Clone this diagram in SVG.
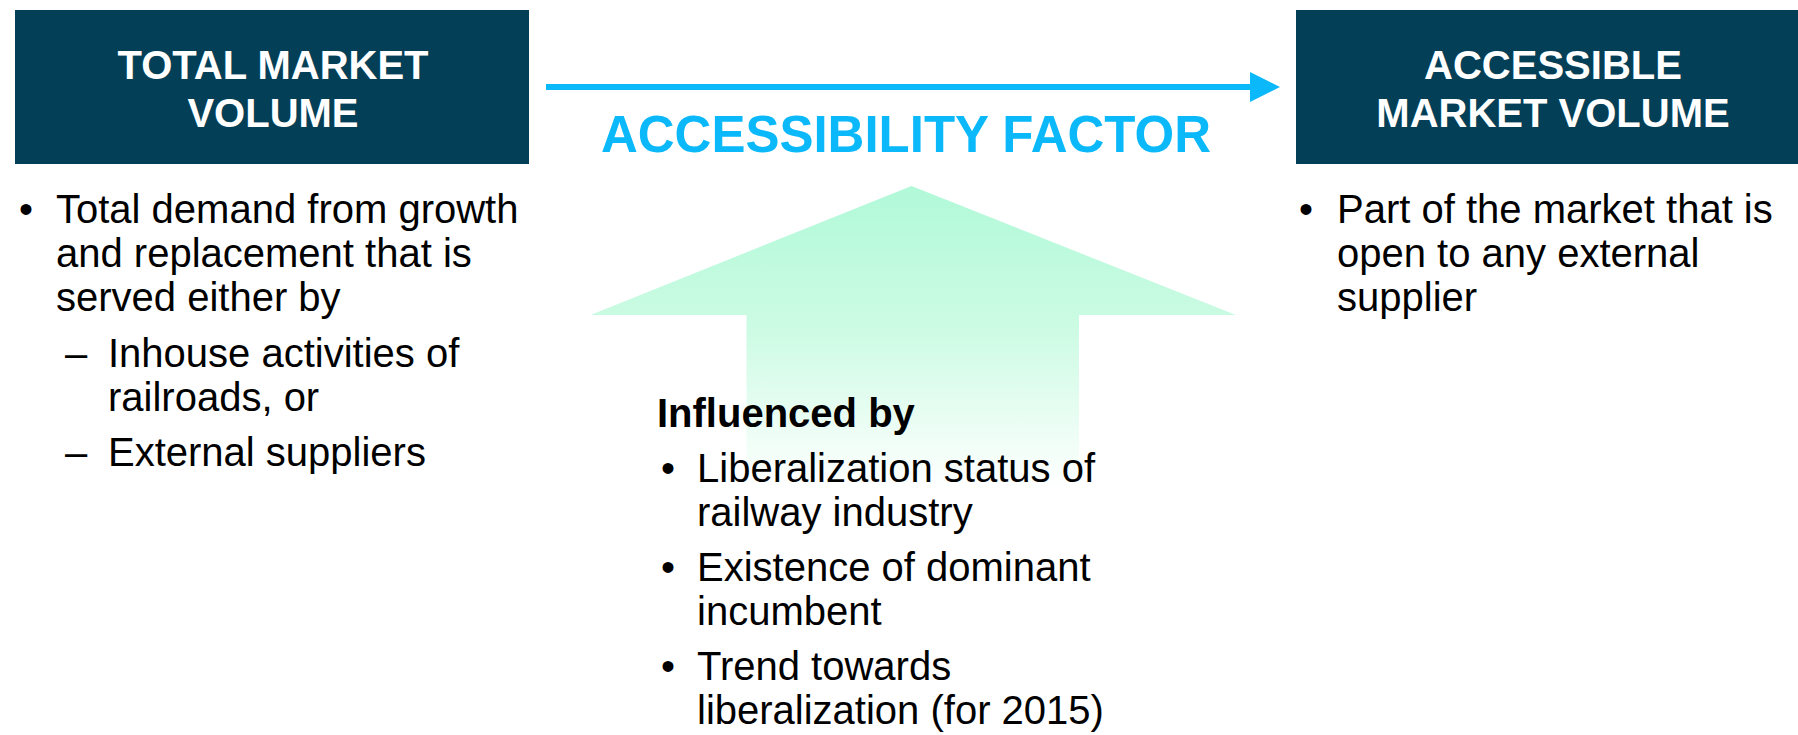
<svg xmlns="http://www.w3.org/2000/svg" width="1798" height="735" viewBox="0 0 1798 735">
  <style>
    .box { fill: #033F57; }
    .head { font-family: "Liberation Sans", Arial, sans-serif; font-weight: bold; font-size: 40px; fill: #FFFFFF; text-anchor: middle; }
    .body { font-family: "Liberation Sans", Arial, sans-serif; font-size: 40px; fill: #000000; }
    .bold { font-weight: bold; }
    .factor { font-family: "Liberation Sans", Arial, sans-serif; font-weight: bold; font-size: 51px; fill: #0BB9FA; text-anchor: middle; }
    .dot { text-anchor: middle; }
  </style>
  <defs>
    <linearGradient id="mint" x1="0" y1="0" x2="0" y2="1" gradientUnits="objectBoundingBox">
      <stop offset="0" stop-color="#B1F9D8"/>
      <stop offset="0.45" stop-color="#CBFBE3"/>
      <stop offset="1" stop-color="#FFFFFF"/>
    </linearGradient>
    <marker id="head" markerWidth="5" markerHeight="5" refX="0" refY="2.5" orient="auto" markerUnits="strokeWidth">
      <path d="M0,0 L5,2.5 L0,5 Z" fill="#0BB9FA"/>
    </marker>
  </defs>

  <rect width="1798" height="735" fill="#FFFFFF"/>

  <!-- upward influence arrow behind the middle list -->
  <g id="influence-arrow">
    <path d="M911.5,186 L1236,315 L1079,315 L1079,490 L746.5,490 L746.5,315 L590.5,315 Z" fill="url(#mint)"/>
  </g>

  <!-- connector from total to accessible volume -->
  <g id="connectors">
    <line x1="546" y1="87" x2="1250" y2="87" stroke="#0BB9FA" stroke-width="6" marker-end="url(#head)"/>
  </g>

  <g id="total-market">
    <rect class="box" x="15" y="10" width="514" height="154"/>
    <text class="head" x="273" y="79">TOTAL MARKET</text>
    <text class="head" x="273" y="127">VOLUME</text>
  </g>

  <g id="accessible-market">
    <rect class="box" x="1296" y="10" width="502" height="154"/>
    <text class="head" x="1553" y="79">ACCESSIBLE</text>
    <text class="head" x="1553" y="127">MARKET VOLUME</text>
  </g>

  <g id="accessibility-factor">
    <text class="factor" x="906" y="152">ACCESSIBILITY FACTOR</text>
  </g>

  <g id="total-notes" class="body">
    <text class="dot" x="26" y="223">•</text>
    <text x="56" y="223">Total demand from growth</text>
    <text x="56" y="267">and replacement that is</text>
    <text x="56" y="311">served either by</text>
    <text x="65" y="367">–</text>
    <text x="108" y="367">Inhouse activities of</text>
    <text x="108" y="411">railroads, or</text>
    <text x="65" y="466">–</text>
    <text x="108" y="466">External suppliers</text>
  </g>

  <g id="accessible-notes" class="body">
    <text class="dot" x="1306" y="223">•</text>
    <text x="1337" y="223">Part of the market that is</text>
    <text x="1337" y="267">open to any external</text>
    <text x="1337" y="311">supplier</text>
  </g>

  <g id="influences" class="body">
    <text class="bold" x="657" y="427">Influenced by</text>
    <text class="dot" x="668" y="482">•</text>
    <text x="697" y="482">Liberalization status of</text>
    <text x="697" y="526">railway industry</text>
    <text class="dot" x="668" y="581">•</text>
    <text x="697" y="581">Existence of dominant</text>
    <text x="697" y="625">incumbent</text>
    <text class="dot" x="668" y="680">•</text>
    <text x="697" y="680">Trend towards</text>
    <text x="697" y="724">liberalization (for 2015)</text>
  </g>
</svg>
